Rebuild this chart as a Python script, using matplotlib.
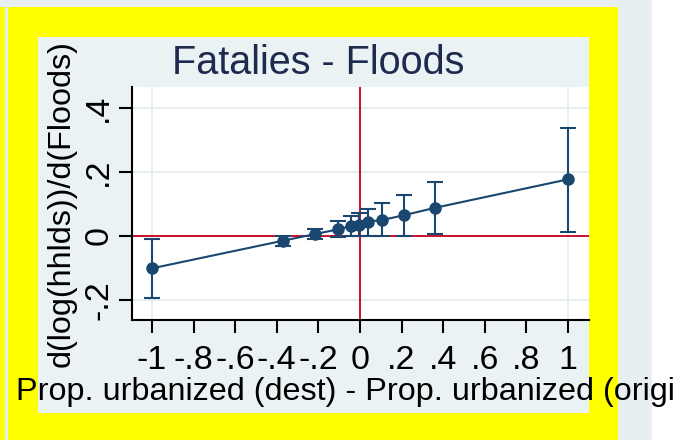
import matplotlib
matplotlib.use("Agg")
import matplotlib.pyplot as plt
from matplotlib.patches import Rectangle

# urbanization gap bins and estimated flood effects with 95% CIs
urban_gap = [-1.0, -0.372, -0.216, -0.104, -0.043, -0.005, 0.04, 0.107, 0.212, 0.36, 1.0]
coef = [-0.101, -0.015, 0.006, 0.021, 0.031, 0.034, 0.045, 0.05, 0.065, 0.088, 0.177]
ci_lo = [-0.193, -0.031, -0.009, -0.002, -0.001, -0.001, 0.0, 0.0, 0.0, 0.005, 0.013]
ci_hi = [-0.010, 0.000, 0.022, 0.047, 0.0625, 0.073, 0.083, 0.102, 0.127, 0.17, 0.337]

xticks = [-1, -0.8, -0.6, -0.4, -0.2, 0, 0.2, 0.4, 0.6, 0.8, 1]
xticklabels = ["-1", "-.8", "-.6", "-.4", "-.2", "0", ".2", ".4", ".6", ".8", "1"]
yticks = [-0.2, 0, 0.2, 0.4]
yticklabels = ["-.2", "0", ".2", ".4"]

title = "Fatalies - Floods"
xlabel = "Prop. urbanized (dest) - Prop. urbanized (origin)"
ylabel = "d(log(hhlds))/d(Floods)"

plt.rcParams['font.family'] = ['Liberation Sans', 'DejaVu Sans']

W, H = 673, 440
navy = "#1a476f"
red = "#c8102e"
bgray = "#e8eff2"

fig = plt.figure(figsize=(W / 100, H / 100), dpi=100, facecolor="white")


def box(x0, y0, x1, y1, color):
    # rectangle in pixel coords measured from the top-left corner
    fig.patches.append(Rectangle((x0 / W, 1 - y1 / H), (x1 - x0) / W, (y1 - y0) / H,
                                 transform=fig.transFigure, facecolor=color,
                                 edgecolor="none", zorder=-10))


box(0, 0, 652, 440, bgray)
box(0, 7, 618, 440, "#ffff00")
box(5, 7, 8, 440, bgray)
box(38, 37, 589, 413, "#eaf2f3")

ax = fig.add_axes([132 / W, 1 - 320 / H, (589 - 132) / W, (320 - 87) / H])
ax.set_facecolor("white")
ax.set_xlim(-1.096, 1.101)
ax.set_ylim(-0.2625, 0.4656)

for s in ["top", "right"]:
    ax.spines[s].set_visible(False)
for s in ["left", "bottom"]:
    ax.spines[s].set_linewidth(1.5)
    ax.spines[s].set_color("black")

ax.set_xticks(xticks)
ax.set_xticklabels(xticklabels)
ax.set_yticks(yticks)
ax.set_yticklabels(yticklabels)
ax.tick_params(axis="both", direction="out", length=9.4, width=1.5,
               labelsize=24.5, colors="black")
ax.tick_params(axis="x", pad=8.4)
ax.tick_params(axis="y", pad=3.4)
plt.setp(ax.get_yticklabels(), rotation=90, va="center")

# light grid: every y label, outer x labels only
ax.yaxis.grid(True, color="#e6eef1", linewidth=1.4, zorder=0)
ax.set_axisbelow(True)
ax.vlines([xticks[0], xticks[-1]], *ax.get_ylim(), color="#e6eef1", linewidth=1.4, zorder=0.5)

ax.axhline(0, color=red, linewidth=1.4, zorder=1.5)
ax.axvline(0, color=red, linewidth=1.4, zorder=1.5)

yerr = [[c - lo for c, lo in zip(coef, ci_lo)], [hi - c for c, hi in zip(coef, ci_hi)]]
ax.errorbar(urban_gap, coef, yerr=yerr, fmt="none", ecolor=navy, elinewidth=1.5,
            capsize=6, capthick=1.5, zorder=3)
ax.plot(urban_gap, coef, color=navy, linewidth=1.5, marker="o", markersize=8,
        zorder=4)

fig.text(318 / W, 1 - 74 / H, title, ha="center", va="baseline", fontsize=28.5,
         color="#1e2a4e")
fig.text(360 / W, 1 - 400 / H, xlabel, ha="center", va="baseline", fontsize=23.3,
         color="black")
fig.text(62 / W, 1 - 203.5 / H, ylabel, ha="center", va="center", rotation=90,
         fontsize=23.3, color="black")

fig.savefig("out.png", dpi=100)
